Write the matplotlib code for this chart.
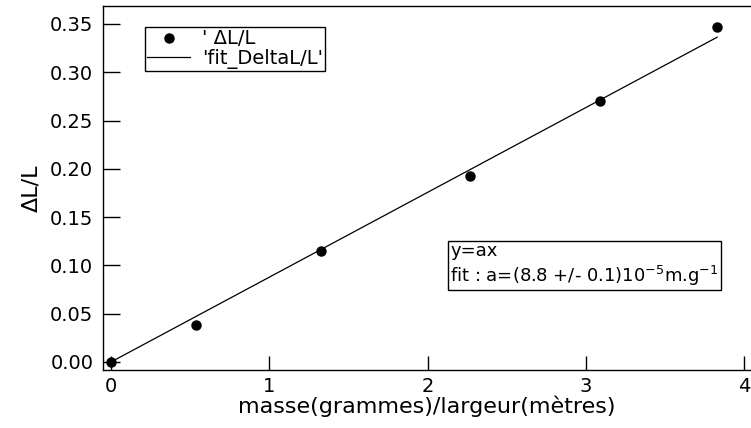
import numpy as np
import matplotlib.pyplot as plt
from matplotlib.lines import Line2D

# mesures
masse_largeur = [0.0, 0.54, 1.33, 2.27, 3.09, 3.83]
delta_l_l = [0.0, 0.038, 0.115, 0.193, 0.270, 0.347]

# ajustement y = a x
pente = 0.0878
fit_x = [0.0, 3.83]

x_ticks = [0, 1, 2, 3, 4]
y_ticks = [0.00, 0.05, 0.10, 0.15, 0.20, 0.25, 0.30, 0.35]


def main():
    plt.rcParams["font.family"] = ["DejaVu Sans"]

    fig = plt.figure(figsize=(7.51, 4.28), dpi=100)
    ax = fig.add_axes([103 / 751, 1 - 370 / 428, 648 / 751, 364 / 428])

    fit_y = [pente * v for v in fit_x]
    ax.plot(fit_x, fit_y, color="black", lw=0.9)
    ax.plot(masse_largeur, delta_l_l, "o", color="black", ms=6.5)

    ax.set_xlim(-0.0506, 4.044)
    ax.set_ylim(-0.0083, 0.3686)
    ax.set_xticks(x_ticks)
    ax.set_yticks(y_ticks)
    ax.set_yticklabels([f"{v:.2f}" for v in y_ticks])

    ax.spines["right"].set_visible(False)
    for s in ["left", "top", "bottom"]:
        ax.spines[s].set_linewidth(1.0)

    ax.tick_params(axis="y", direction="in", length=12, width=1,
                   labelsize=14, pad=7, colors="black")
    ax.tick_params(axis="x", direction="in", length=10, width=1,
                   labelsize=14, pad=5, colors="black")

    ax.set_xlabel("masse(grammes)/largeur(mètres)", fontsize=16,
                  labelpad=0)
    ax.set_ylabel("ΔL/L", fontsize=16, labelpad=6)

    handles = [
        Line2D([], [], marker="o", ls="none", color="black", ms=6.5),
        Line2D([], [], color="black", lw=0.9),
    ]
    leg = ax.legend(handles, ["' ΔL/L", "'fit_DeltaL/L'"],
                    loc="upper left", bbox_to_anchor=(42 / 648, 1 - 21 / 364),
                    fontsize=14, frameon=True, fancybox=False,
                    edgecolor="black", framealpha=1, borderpad=0.12,
                    handlelength=2.2, handletextpad=0.6, labelspacing=0.02,
                    borderaxespad=0)
    leg.get_frame().set_linewidth(1.0)

    ax.text(0.536, 0.226,
            "y=ax\nfit : a=(8.8 +/- 0.1)10$^{-5}$m.g$^{-1}$",
            transform=ax.transAxes, fontsize=13, va="bottom", ha="left",
            linespacing=1.2,
            bbox=dict(boxstyle="square,pad=0.15", facecolor="white",
                      edgecolor="black", lw=1.0))

    fig.savefig("out.png", dpi=100)
    plt.close(fig)


if __name__ == "__main__":
    main()
